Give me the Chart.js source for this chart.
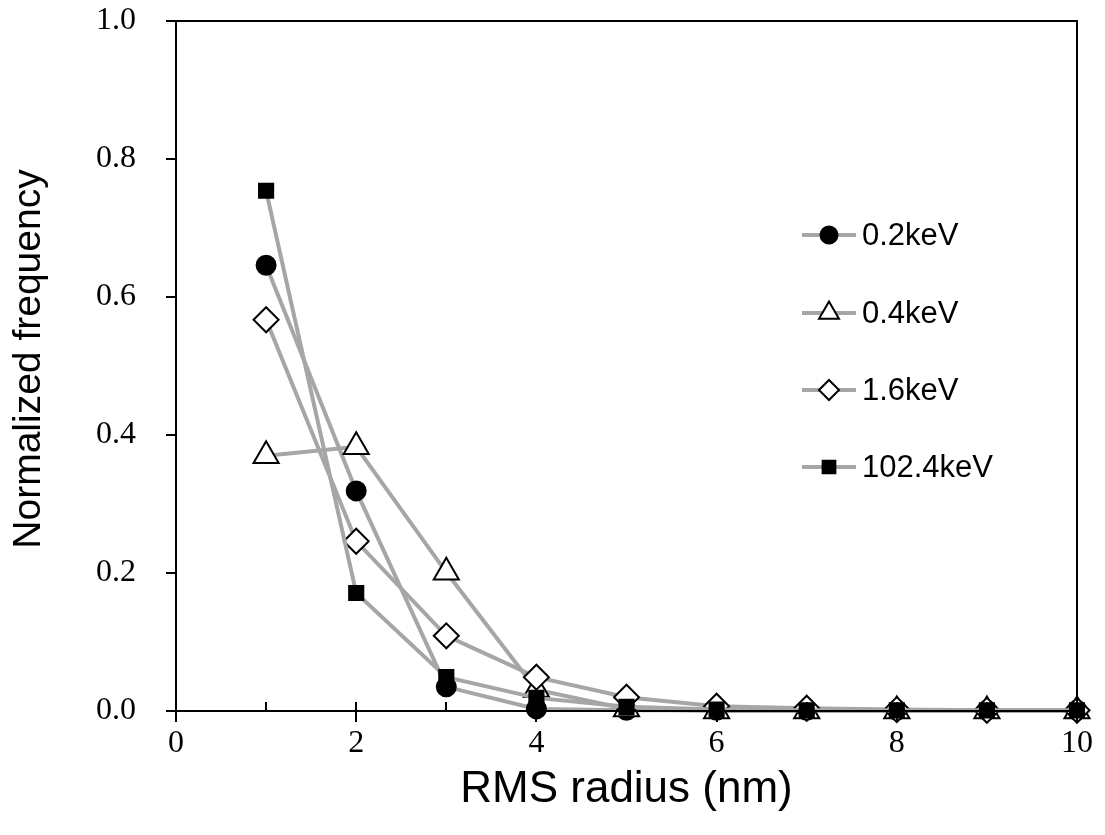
<!DOCTYPE html>
<html>
<head>
<meta charset="utf-8">
<title>Normalized frequency vs RMS radius</title>
<script src="https://cdn.jsdelivr.net/npm/chart.js@4.4.1/dist/chart.umd.min.js"></script>
<style>
  html, body { margin: 0; padding: 0; background: #fff; }
  #wrap { width: 1105px; height: 835px; position: relative; }
</style>
</head>
<body>
<div id="wrap"><canvas id="grafico"></canvas></div>
<script>
// radio RMS (nm)
var radios = [1, 2, 3, 4, 5, 6, 7, 8, 9, 10];

// frecuencia normalizada por energia
var frec02 = [0.646, 0.319, 0.035, 0.003, 0.001, 0.001, 0.001, 0.001, 0.001, 0.001];
var frec04 = [0.370, 0.383, 0.201, 0.031, 0.003, 0.0, 0.0, 0.0, 0.0, 0.0];
var frec16 = [0.567, 0.246, 0.109, 0.049, 0.020, 0.007, 0.004, 0.002, 0.001, 0.001];
var frec1024 = [0.754, 0.171, 0.049, 0.019, 0.006, 0.002, 0.001, 0.001, 0.001, 0.001];

var etiquetas = ['0.2keV', '0.4keV', '1.6keV', '102.4keV'];
var ticksX = [0, 2, 4, 6, 8, 10];
var ticksY = [0, 0.2, 0.4, 0.6, 0.8, 1.0];

var gris = '#a6a6a6';
var fuenteNum = '"Liberation Serif", "Times New Roman", serif';
var fuenteTxt = '"Liberation Sans", Arial, sans-serif';

function puntos(arr) {
  return arr.map(function (v, i) { return { x: radios[i], y: v }; });
}

function serie(label, datos, estilo, radio, relleno, orden) {
  return {
    label: label,
    data: puntos(datos),
    borderColor: gris,
    borderWidth: 4,
    pointStyle: estilo,
    pointRadius: radio,
    pointHoverRadius: radio,
    pointBackgroundColor: relleno,
    pointBorderColor: '#000',
    pointBorderWidth: 2,
    tension: 0,
    fill: false,
    clip: false,
    order: orden
  };
}

var datasets = [
  serie(etiquetas[0], frec02, 'circle', 9.5, '#000', 4),
  serie(etiquetas[1], frec04, 'triangle', 14.5, '#fff', 3),
  serie(etiquetas[2], frec16, 'rectRot', 12.5, '#fff', 2),
  serie(etiquetas[3], frec1024, 'rect', 10, '#000', 1)
];

// tamanos de los marcadores dentro de la leyenda
var radiosLeyenda = [8.5, 11.5, 10, 9];

// marco, marcas de los ejes, titulos y leyenda propia
var marcoPlugin = {
  id: 'marco',
  afterDraw: function (chart) {
    var ctx = chart.ctx;
    var a = chart.chartArea;
    var sx = chart.scales.x, sy = chart.scales.y;
    ctx.save();
    ctx.strokeStyle = '#000';
    ctx.lineWidth = 2;
    ctx.beginPath();
    // marcas del eje x: pares cruzan, impares hacia dentro
    for (var v = 0; v <= 10; v++) {
      var px = Math.round(sx.getPixelForValue(v));
      ctx.moveTo(px, a.bottom - 9);
      ctx.lineTo(px, v % 2 === 0 ? a.bottom + 11 : a.bottom);
    }
    ticksY.forEach(function (t) {
      var py = Math.round(sy.getPixelForValue(t));
      ctx.moveTo(a.left - 10, py);
      ctx.lineTo(a.left, py);
    });
    ctx.stroke();
    ctx.strokeRect(a.left, a.top, a.right - a.left, a.bottom - a.top);

    // titulos de los ejes
    ctx.fillStyle = '#000';
    ctx.textAlign = 'center';
    ctx.textBaseline = 'alphabetic';
    ctx.font = '44px ' + fuenteTxt;
    ctx.fillText('RMS radius (nm)', (a.left + a.right) / 2, 802);
    ctx.font = '39px ' + fuenteTxt;
    ctx.save();
    ctx.translate(40, 359);
    ctx.rotate(-Math.PI / 2);
    ctx.fillText('Normalized frequency', 0, 0);
    ctx.restore();

    // leyenda
    var x0 = 802, x1 = 856, xt = 862;
    var filas = [235, 313, 390, 467];
    ctx.font = '31px ' + fuenteTxt;
    ctx.textBaseline = 'middle';
    ctx.textAlign = 'left';
    chart.data.datasets.forEach(function (ds, i) {
      var y = filas[i];
      ctx.strokeStyle = ds.borderColor;
      ctx.lineWidth = 4;
      ctx.beginPath();
      ctx.moveTo(x0, y);
      ctx.lineTo(x1, y);
      ctx.stroke();
      ctx.fillStyle = ds.pointBackgroundColor;
      ctx.strokeStyle = ds.pointBorderColor;
      ctx.lineWidth = 2;
      Chart.helpers.drawPoint(ctx, { pointStyle: ds.pointStyle, radius: radiosLeyenda[i], rotation: 0, borderWidth: 2 }, (x0 + x1) / 2, y);
      ctx.fillStyle = '#000';
      ctx.fillText(ds.label, xt, y + 1);
    });
    ctx.restore();
  }
};

var ctx = document.getElementById('grafico').getContext('2d');
new Chart(ctx, {
  type: 'line',
  data: { datasets: datasets },
  plugins: [marcoPlugin],
  options: {
    responsive: true,
    maintainAspectRatio: false,
    animation: false,
    layout: { padding: { left: 0, top: 21, right: 28, bottom: 0 } },
    plugins: {
      legend: { display: false },
      tooltip: { enabled: false }
    },
    scales: {
      x: {
        type: 'linear',
        min: 0,
        max: 10,
        afterFit: function (s) {
          s.height = 124;
          s.paddingLeft = 0;
          s.paddingRight = 0;
        },
        afterBuildTicks: function (s) { s.ticks = ticksX.map(function (v) { return { value: v }; }); },
        grid: { display: true, drawOnChartArea: false, drawTicks: false, color: 'rgba(0,0,0,0)' },
        border: { display: false },
        ticks: {
          padding: 13,
          color: '#000',
          maxRotation: 0,
          autoSkip: false,
          font: { family: fuenteNum, size: 32 },
          callback: function (v) { return String(v); }
        }
      },
      y: {
        min: 0,
        max: 1,
        afterFit: function (s) {
          s.width = 176;
          s.paddingTop = 0;
          s.paddingBottom = 0;
        },
        afterBuildTicks: function (s) { s.ticks = ticksY.map(function (v) { return { value: v }; }); },
        grid: { display: true, drawOnChartArea: false, drawTicks: false, color: 'rgba(0,0,0,0)' },
        border: { display: false },
        ticks: {
          padding: 40,
          color: '#000',
          autoSkip: false,
          font: { family: fuenteNum, size: 32 },
          callback: function (v) { return v.toFixed(1); }
        }
      }
    }
  }
});
</script>
</body>
</html>
